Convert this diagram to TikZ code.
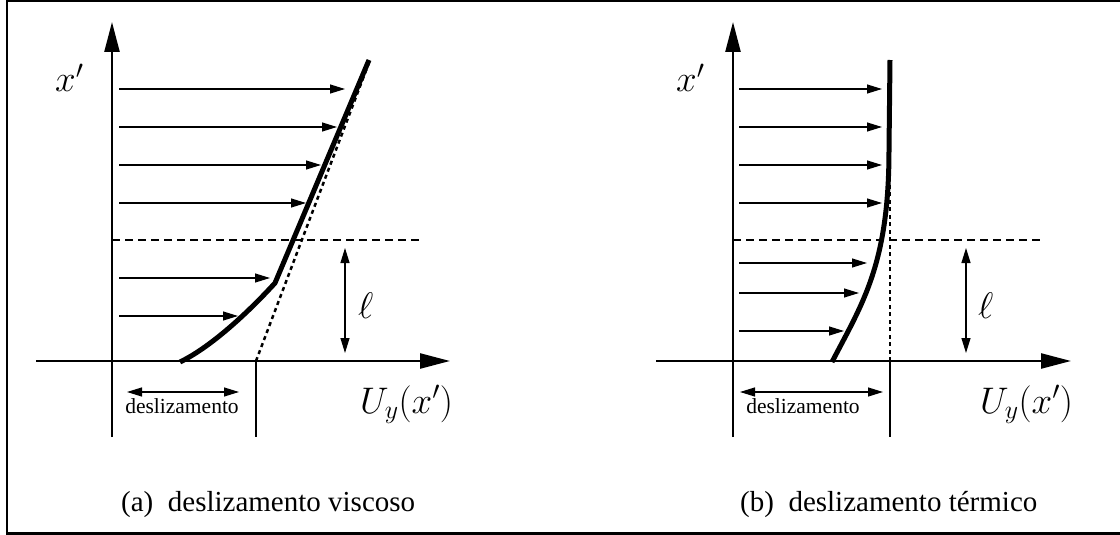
\RequirePackage{fix-cm}
\documentclass[tikz,border=0pt]{standalone}
\usepackage{fontspec}
\setmainfont{Liberation Serif}
\usepackage{tikz}
\usetikzlibrary{arrows.meta}
\tikzstyle{axisline}  = [line width=2.4pt, -{Triangle[length=30pt, width=15pt]}]
\tikzstyle{flowarrow} = [line width=1.2pt, -{Triangle[length=15pt, width=9pt]}]
\tikzstyle{measure}   = [line width=1.2pt, {Triangle[length=15pt, width=9pt]}-{Triangle[length=15pt, width=9pt]}]
\tikzstyle{profile}   = [line width=5pt, line join=round]
\tikzstyle{extrap}    = [line width=2.5pt, dash pattern=on 4pt off 3.5pt]
\tikzstyle{boundary}  = [line width=1.2pt, dash pattern=on 8pt off 5pt]
\tikzstyle{tickline}  = [line width=1.3pt]
\tikzstyle{mathlbl}   = [font=\fontsize{37}{42}\selectfont, inner sep=0pt, anchor=base west]
\tikzstyle{slipLbl}   = [font=\fontsize{21.5}{24}\selectfont, inner sep=0pt, anchor=base]
\tikzstyle{capLbl}    = [font=\fontsize{29}{33}\selectfont, inner sep=0pt, anchor=base west]

\begin{document}
\begin{tikzpicture}[x=1pt, y=-1pt]
    \useasboundingbox (0,0) rectangle (1120,535);
    % frame
    \draw[line width=2.5pt] (1120,1.25) -- (7.2,1.25) -- (7.2,533.5) -- (1120,533.5);

    % (a) viscous slip
    \draw[axisline] (36,361) -- (450,361);
    \draw[axisline] (112,437) -- (112,22);
    \draw[tickline] (256,361) -- (256,437);
    \draw[boundary] (112,240) -- (421,240);
    \draw[flowarrow] (119,89) -- (345,89);
    \draw[flowarrow] (119,127) -- (337,127);
    \draw[flowarrow] (119,165) -- (321,165);
    \draw[flowarrow] (119,203) -- (306,203);
    \draw[flowarrow] (119,278) -- (270,278);
    \draw[flowarrow] (119,316) -- (238,316);
    \draw[extrap] (256,361) -- (370,60);
    \draw[profile] (369,60) -- (275,283) .. controls (255,305) and (215,345) .. (180,362);
    \draw[measure] (127,392) -- (239,392);
    \draw[measure] (345,248) -- (345,353);
    \node (xA) [mathlbl] at (55,92) {$x'$};
    \node (uA) [mathlbl] at (360,413) {$U_y(x')$};
    \node (ellA) [mathlbl] at (358,318) {$\ell$};
    \node (slipA) [slipLbl] at (182,413) {deslizamento};
    \node (capA) [capLbl] at (121,511) {(a)\enspace deslizamento viscoso};

    % (b) thermal slip
    \draw[axisline] (656,361) -- (1071,361);
    \draw[axisline] (733,437) -- (733,22);
    \draw[tickline] (890,361) -- (890,437);
    \draw[boundary] (733,240) -- (1042,240);
    \draw[flowarrow] (739,89) -- (882,89);
    \draw[flowarrow] (739,127) -- (882,127);
    \draw[flowarrow] (739,165) -- (882,165);
    \draw[flowarrow] (739,203) -- (882,203);
    \draw[flowarrow] (739,263) -- (867,263);
    \draw[flowarrow] (739,293) -- (859,293);
    \draw[flowarrow] (739,331) -- (844,331);
    \draw[extrap] (890,361) -- (890,145);
    \draw[profile] (890,60) -- (889,150) .. controls (889,265) and (862,304) .. (832,362);
    \draw[measure] (740,392) -- (883,392);
    \draw[measure] (966,248) -- (966,353);
    \node (xB) [mathlbl] at (676,92) {$x'$};
    \node (uB) [mathlbl] at (980,413) {$U_y(x')$};
    \node (ellB) [mathlbl] at (978,318) {$\ell$};
    \node (slipB) [slipLbl] at (803,413) {deslizamento};
    \node (capB) [capLbl] at (740,511) {(b)\enspace deslizamento térmico};
\end{tikzpicture}
\end{document}
